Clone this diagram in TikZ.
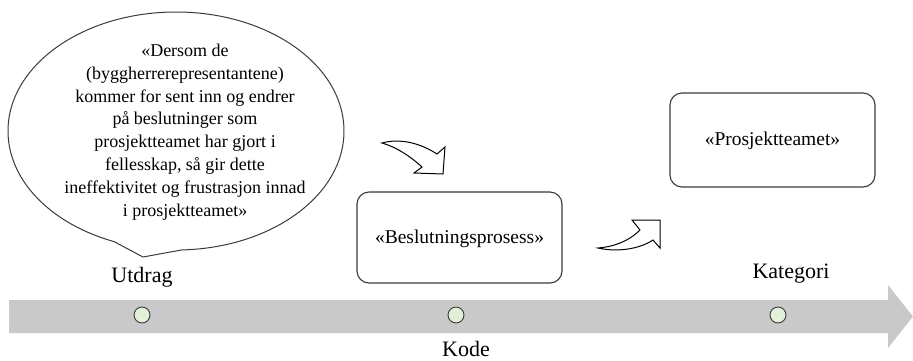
\documentclass[tikz,border=0pt]{standalone}
\usepackage{fontspec}
\setmainfont{Liberation Serif}
\definecolor{bandgray}{HTML}{C9C9C9}
\definecolor{dotfill}{HTML}{E2F0D9}
\definecolor{edge}{HTML}{3A3A3A}
\begin{document}
\begin{tikzpicture}[x=1pt,y=-1pt,
  outline/.style={draw=edge,line width=1.1pt,line join=round},
  codebox/.style={outline,rounded corners=12pt,fill=white},
  boxtext/.style={font=\fontsize{19.5}{23}\selectfont},
  stagelabel/.style={font=\fontsize{22}{26}\selectfont,anchor=base},
  dot/.style={circle,draw=edge,line width=0.9pt,fill=dotfill,minimum size=16pt,inner sep=0pt},
  bentarrow/.style={draw=black,line width=1pt,fill=white,line join=miter}]
\useasboundingbox (0,0) rectangle (913,360);

% timeline band with its head
\fill[bandgray] (9,300) -- (888,300) -- (888,285) -- (913,316.5) -- (888,348) -- (888,333) -- (9,333) -- cycle;
\node[dot] (d1) at (142,315) {};
\node[dot] (d2) at (456,315) {};
\node[dot] (d3) at (778,315) {};

% stage labels
\node[stagelabel] (utdrag) at (142,282) {Utdrag};
\node[stagelabel] (kode) at (466,356) {Kode};
\node[stagelabel] (kategori) at (791,278) {Kategori};

% speech bubble with the quoted excerpt
\coordinate (bc) at (176,131);
\draw[outline,line width=1pt] (bc) ++(88:168 and 119) arc[start angle=88,end angle=-248.4,x radius=168,y radius=119] -- (143,257) -- cycle;
\node[align=center,font=\fontsize{18}{22.8}\selectfont] (quote) at (185,132) {«Dersom de\\(byggherrerepresentantene)\\kommer for sent inn og endrer\\på beslutninger som\\prosjektteamet har gjort i\\fellesskap, så gir dette\\ineffektivitet og frustrasjon innad\\i prosjektteamet»};

% code and category boxes
\draw[codebox] (357,192) rectangle (562,283);
\node[boxtext] (code) at (459.5,239) {«Beslutningsprosess»};
\draw[codebox] (670,93) rectangle (875,187);
\node[boxtext] (category) at (772.5,141) {«Prosjektteamet»};

% bent arrow from excerpt to code
\draw[bentarrow] (382,143) .. controls (400,138) and (420,143) .. (437,154)
  -- (445,147) -- (443,174) -- (414,173) -- (422,167)
  .. controls (410,156) and (396,147) .. cycle;

% bent arrow from code to category
\draw[bentarrow] (598,248) .. controls (615,252) and (638,250) .. (653,240)
  -- (660,248) -- (660,220) -- (632,220) -- (640,230)
  .. controls (628,242) and (612,247) .. cycle;
\end{tikzpicture}
\end{document}
